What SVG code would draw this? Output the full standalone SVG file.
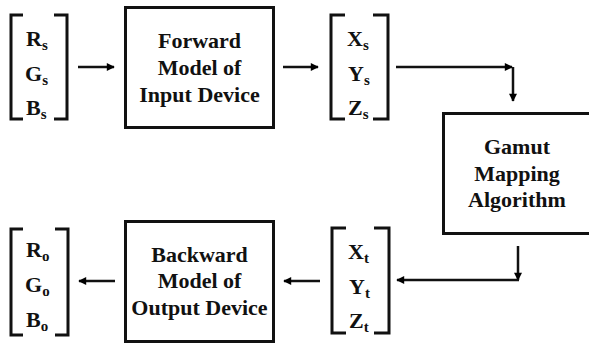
<svg xmlns="http://www.w3.org/2000/svg" width="589" height="343" viewBox="0 0 589 343">
<defs>
<marker id="ah" viewBox="0 0 10 10" refX="9" refY="5" markerWidth="10" markerHeight="8" markerUnits="userSpaceOnUse" orient="auto">
<path d="M0,0 L10,5 L0,10 Z" fill="#000"/>
</marker>
<style>
text{font-family:'Liberation Serif','Times New Roman','DejaVu Serif',serif;font-weight:bold;font-size:22px;fill:#111}
.t{text-anchor:middle}
.sub{font-size:15px}
.box{fill:#fff;stroke:#111;stroke-width:3}
.br{fill:none;stroke:#111;stroke-width:3}
.c{fill:none;stroke:#111;stroke-width:2.5;marker-end:url(#ah)}
</style>
</defs>
<rect width="589" height="343" fill="#fff"/>
<g id="rgb_s">
<path class="br" d="M23,15 H11 V119 H23 M54,15 H67 V119 H54"/>
<text x="26" y="46">R<tspan class="sub" dy="4">s</tspan></text>
<text x="25" y="81">G<tspan class="sub" dy="4">s</tspan></text>
<text x="26" y="115">B<tspan class="sub" dy="4">s</tspan></text>
</g>
<g id="forward">
<rect class="box" x="125.5" y="7.5" width="148" height="120"/>
<text class="t" x="199.5" y="48">Forward</text>
<text class="t" x="199.5" y="75">Model of</text>
<text class="t" x="199.5" y="102">Input Device</text>
</g>
<g id="xyz_s">
<path class="br" d="M345,15 H331 V119 H345 M373,15 H388 V119 H373"/>
<text x="347" y="46">X<tspan class="sub" dy="4">s</tspan></text>
<text x="348" y="81">Y<tspan class="sub" dy="4">s</tspan></text>
<text x="348" y="115">Z<tspan class="sub" dy="4">s</tspan></text>
</g>
<g id="gamut">
<rect class="box" x="443.5" y="113.5" width="150" height="120"/>
<text class="t" x="517" y="154">Gamut</text>
<text class="t" x="517" y="181">Mapping</text>
<text class="t" x="517" y="207">Algorithm</text>
</g>
<g id="xyz_t">
<path class="br" d="M346,228 H332 V333 H346 M374,228 H389 V333 H374"/>
<text x="348" y="259">X<tspan class="sub" dy="4">t</tspan></text>
<text x="349" y="294">Y<tspan class="sub" dy="4">t</tspan></text>
<text x="349" y="328">Z<tspan class="sub" dy="4">t</tspan></text>
</g>
<g id="backward">
<rect class="box" x="125.5" y="221.5" width="148" height="120"/>
<text class="t" x="199.5" y="262">Backward</text>
<text class="t" x="199.5" y="288">Model of</text>
<text class="t" x="199.5" y="315">Output Device</text>
</g>
<g id="rgb_o">
<path class="br" d="M23,229 H11 V335 H23 M55,229 H68 V335 H55"/>
<text x="26" y="257">R<tspan class="sub" dy="4">o</tspan></text>
<text x="25" y="292">G<tspan class="sub" dy="4">o</tspan></text>
<text x="26" y="327">B<tspan class="sub" dy="4">o</tspan></text>
</g>
<g id="connectors">
<line class="c" x1="78" y1="67" x2="114" y2="67"/>
<line class="c" x1="283" y1="67" x2="318" y2="67"/>
<line class="c" x1="396" y1="67" x2="512" y2="67"/>
<line class="c" x1="513" y1="67" x2="513" y2="101"/>
<line class="c" x1="518" y1="246" x2="518" y2="280"/>
<line class="c" x1="519" y1="280" x2="397" y2="280"/>
<line class="c" x1="320" y1="281" x2="284" y2="281"/>
<line class="c" x1="115" y1="281" x2="79" y2="281"/>
</g>
</svg>
